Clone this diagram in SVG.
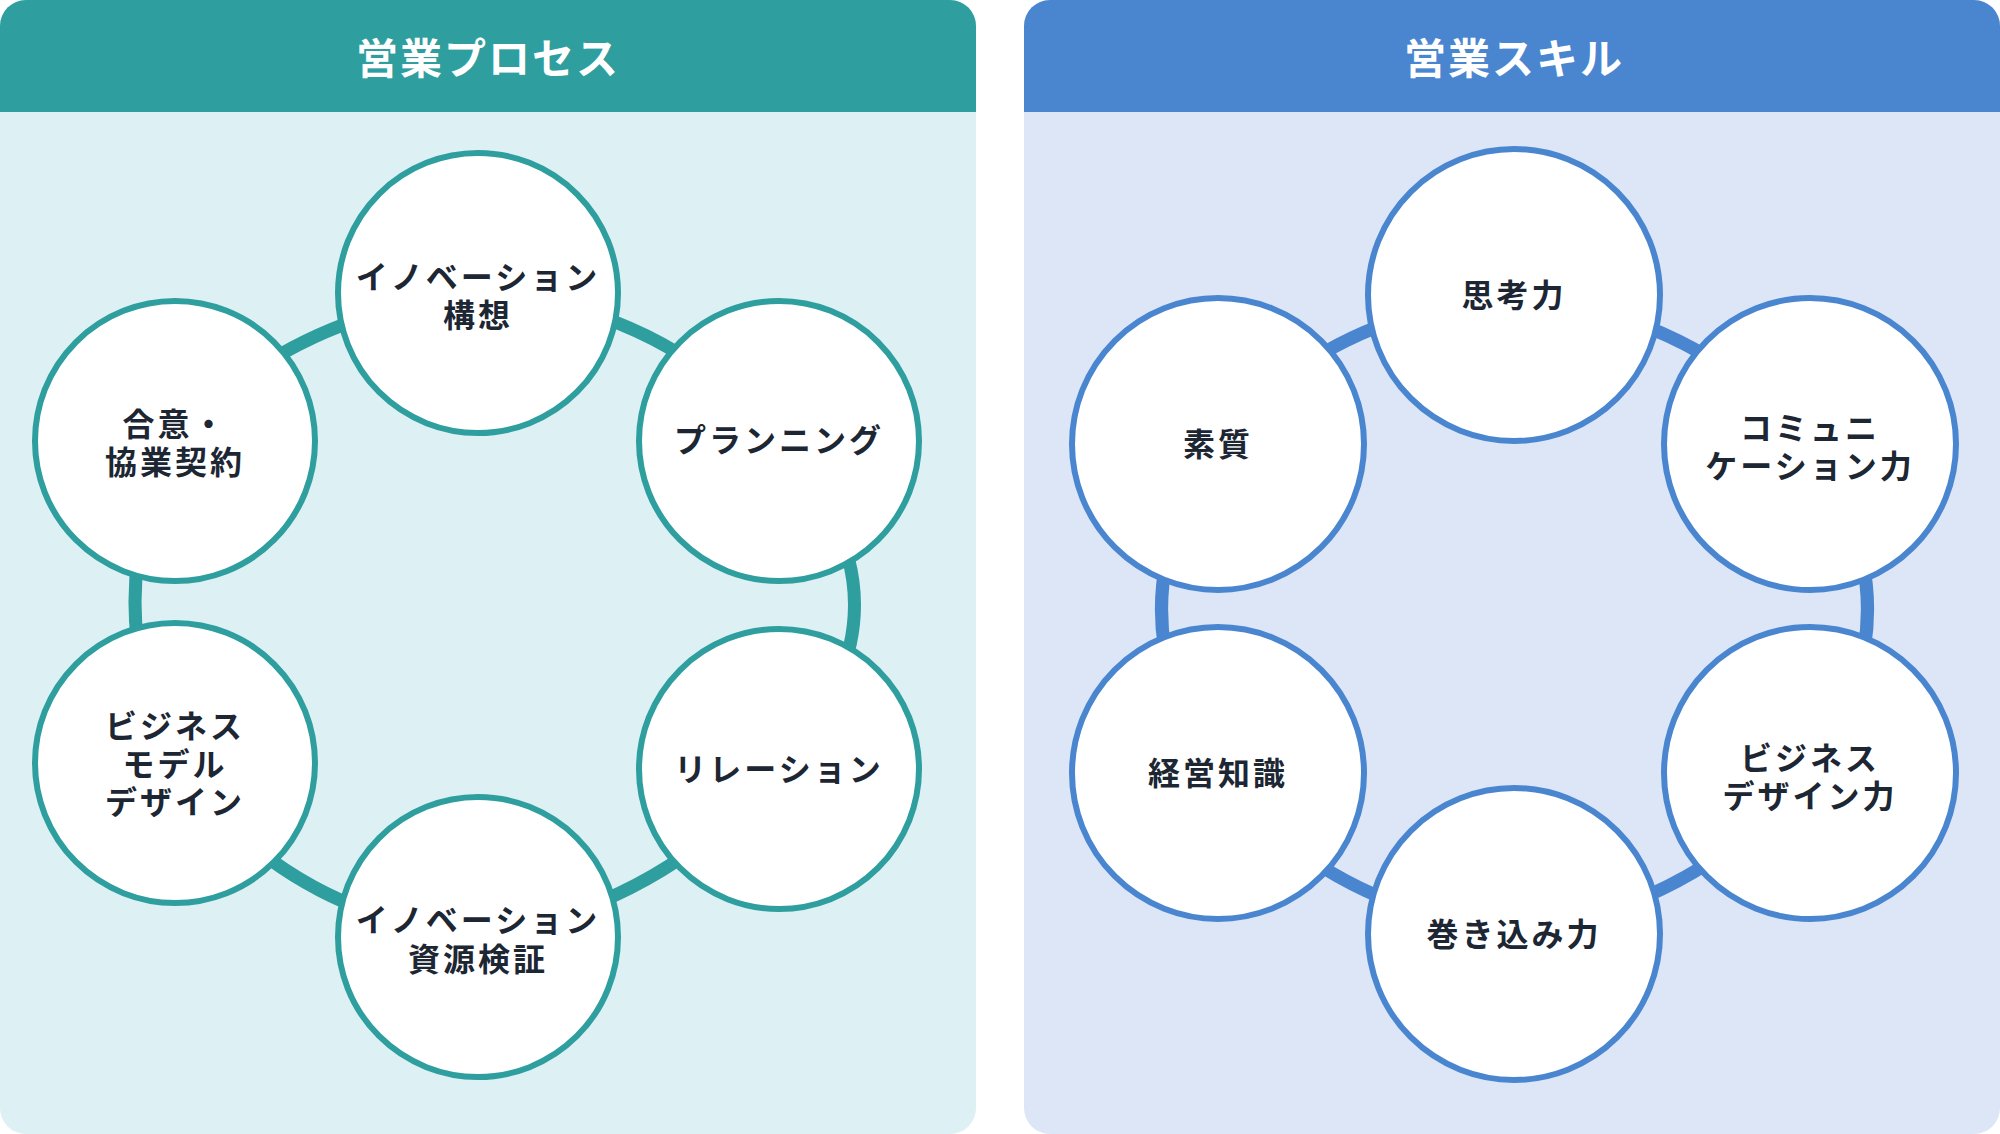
<svg xmlns="http://www.w3.org/2000/svg" width="2000" height="1134" viewBox="0 0 2000 1134">
<style>
.t{font-family:"Noto Sans CJK JP","Noto Sans",sans-serif;font-weight:700;font-size:32px;fill:#1d2633;text-anchor:middle;letter-spacing:3px}
.h{font-family:"Noto Sans CJK JP","Noto Sans",sans-serif;font-weight:700;font-size:42px;fill:#fff;text-anchor:middle;letter-spacing:2px}
.cl{fill:#fff;stroke:#2e9e9e;stroke-width:6}
.cr{fill:#fff;stroke:#4a86d0;stroke-width:6}
.ll{stroke:#2e9e9e;stroke-width:13;fill:none}
.lr{stroke:#4a86d0;stroke-width:13;fill:none}
</style>
<rect width="2000" height="1134" fill="#fff"/>
<g id="panel-left">
<rect x="0" y="0" width="976" height="1134" rx="26" fill="#ddf0f3"/>
<path d="M0 26 A26 26 0 0 1 26 0 H950 A26 26 0 0 1 976 26 V112 H0 Z" fill="#2e9e9e"/>
<text class="h" x="488" y="74">営業プロセス</text>
</g>
<g id="panel-right">
<rect x="1024" y="0" width="976" height="1134" rx="26" fill="#dce6f7"/>
<path d="M1024 26 A26 26 0 0 1 1050 0 H1974 A26 26 0 0 1 2000 26 V112 H1024 Z" fill="#4a86d0"/>
<text class="h" x="1514" y="74">営業スキル</text>
</g>
<g id="connectors">
<path class="ll" d="M478 293 Q665 305 779 441 Q930 605 779 769 Q665 905 478 937 Q285 915 175 763 Q95 602 175 441 Q285 315 478 293"/>
<path class="lr" d="M1514 295 Q1700 315 1810 444 Q1925 610 1810 773 Q1700 905 1514 934 Q1320 905 1218 773 Q1105 610 1218 444 Q1320 315 1514 295"/>
</g>
<g id="n1"><circle class="cl" cx="478" cy="293" r="140"/><text class="t" x="478" y="289">イノベーション</text><text class="t" x="478" y="327">構想</text></g>
<g id="n2"><circle class="cl" cx="779" cy="441" r="140"/><text class="t" x="779" y="452">プランニング</text></g>
<g id="n3"><circle class="cl" cx="779" cy="769" r="140"/><text class="t" x="779" y="781">リレーション</text></g>
<g id="n4"><circle class="cl" cx="478" cy="937" r="140"/><text class="t" x="478" y="932">イノベーション</text><text class="t" x="478" y="971">資源検証</text></g>
<g id="n5"><circle class="cl" cx="175" cy="763" r="140"/><text class="t" x="175" y="738">ビジネス</text><text class="t" x="175" y="776">モデル</text><text class="t" x="175" y="814">デザイン</text></g>
<g id="n6"><circle class="cl" cx="175" cy="441" r="140"/><text class="t" x="175" y="436">合意・</text><text class="t" x="175" y="474">協業契約</text></g>
<g id="m1"><circle class="cr" cx="1514" cy="295" r="146"/><text class="t" x="1514" y="307">思考力</text></g>
<g id="m2"><circle class="cr" cx="1810" cy="444" r="146"/><text class="t" x="1810" y="440">コミュニ</text><text class="t" x="1810" y="478">ケーション力</text></g>
<g id="m3"><circle class="cr" cx="1810" cy="773" r="146"/><text class="t" x="1810" y="770">ビジネス</text><text class="t" x="1810" y="808">デザイン力</text></g>
<g id="m4"><circle class="cr" cx="1514" cy="934" r="146"/><text class="t" x="1514" y="946">巻き込み力</text></g>
<g id="m5"><circle class="cr" cx="1218" cy="773" r="146"/><text class="t" x="1218" y="785">経営知識</text></g>
<g id="m6"><circle class="cr" cx="1218" cy="444" r="146"/><text class="t" x="1218" y="456">素質</text></g>
</svg>
